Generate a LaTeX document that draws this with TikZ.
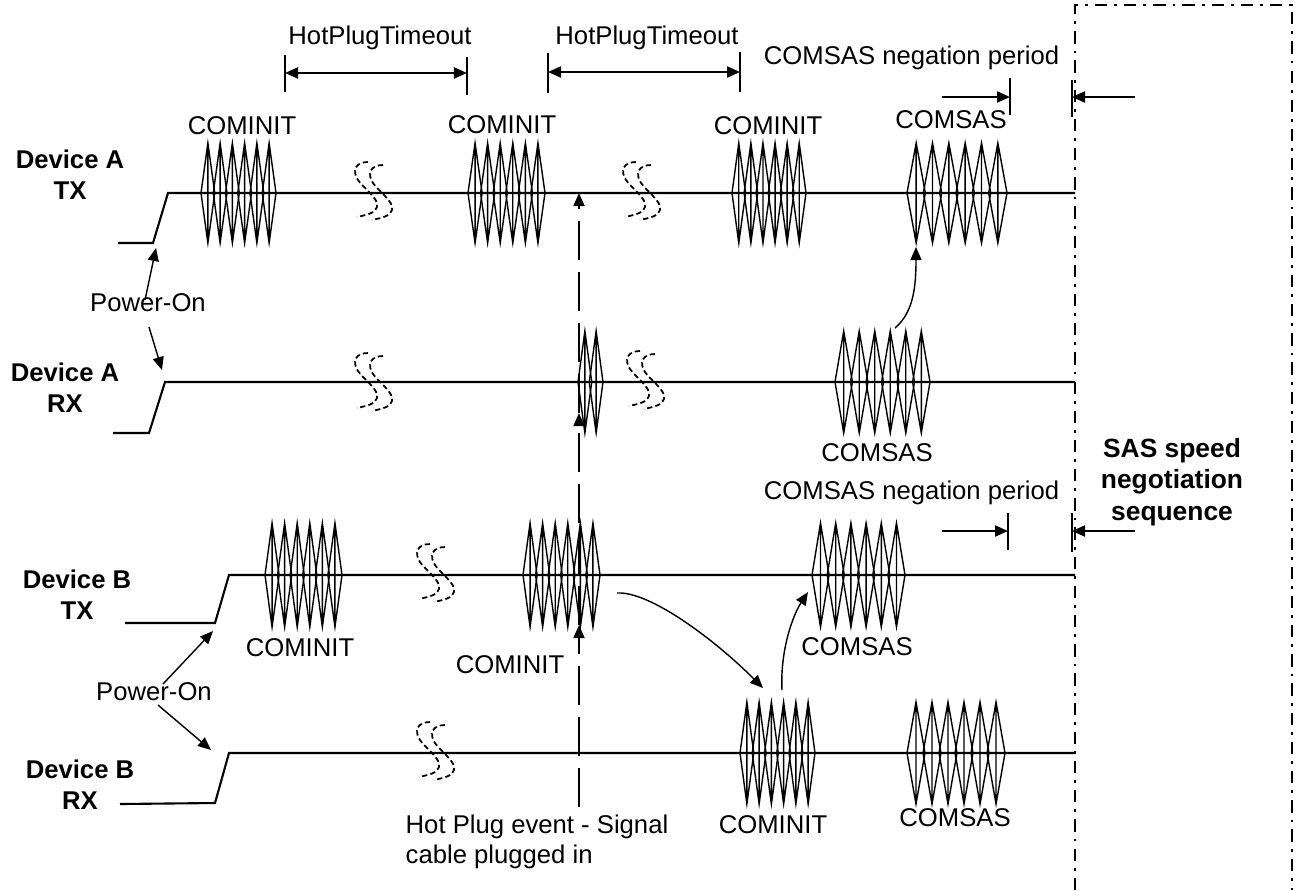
\documentclass[tikz,border=0pt]{standalone}
\usepackage{fontspec}
\setmainfont{Liberation Sans}
\usetikzlibrary{arrows.meta}

% one burst of oscillation: left x, right x, line y, half height, columns
\newcommand{\sigburst}[5]{%
  \pgfmathsetmacro{\hw}{0.55*(#2-#1)/#5}%
  \foreach \k in {1,...,#5}{%
    \pgfmathsetmacro{\cx}{#1+\hw+(\k-1)*(#2-#1-2*\hw)/(#5-1)}%
    \draw[burst] (\cx,#3-#4) -- (\cx+\hw,#3) -- (\cx,#3+#4) -- (\cx-\hw,#3) -- cycle
      (\cx,#3-#4) -- (\cx,#3+#4);
  }}
% time break mark: left x, line y
\newcommand{\sigbreak}[2]{%
  \foreach \dx/\dy in {0/0,15/3}{%
    \draw[brk,shift={(#1+\dx,#2+\dy)}] (13,-31) .. controls (0,-31) and (-3,-22) .. (3,-13)
      .. controls (9,-4) and (24,5) .. (22,14) .. controls (21,20) and (11,22) .. (2,24);
  }}

\tikzset{
  lbl/.style={font=\fontsize{7.3}{8.5}\selectfont, inner sep=0pt},
  dev/.style={font=\fontsize{7.3}{8.8}\selectfont\bfseries, align=center, inner sep=0pt},
  sig/.style={line width=0.6pt},
  burst/.style={line width=0.4pt},
  brk/.style={line width=0.5pt, dash pattern=on 1.5pt off 0.9pt},
  plug/.style={line width=0.5pt, dash pattern=on 11pt off 3.5pt},
  seqbox/.style={line width=0.6pt, dash pattern=on 3.5pt off 2pt on 0.8pt off 2pt},
  tick/.style={line width=0.6pt}
}

\begin{document}
\begin{tikzpicture}[x=0.01cm, y=-0.01cm, >={Triangle[length=1.3mm,width=1.1mm]}]
\useasboundingbox (0,0) rectangle (1297,890);

% HotPlugTimeout spans:
\node[lbl] (hptA) at (380,38) {HotPlugTimeout};
\node[lbl] (hptB) at (647,38) {HotPlugTimeout};
\draw[tick] (285,55) -- (285,92) (467,57) -- (467,95) (548,53) -- (548,93) (740,52) -- (740,92);
\coordinate (hptA1) at (285,73); \coordinate (hptA2) at (467,73);
\coordinate (hptB1) at (548,72); \coordinate (hptB2) at (740,72);
\draw[<->, line width=0.6pt] (hptA1) -- (hptA2);
\draw[<->, line width=0.6pt] (hptB1) -- (hptB2);

% COMSAS negation periods:
\node[lbl, anchor=east] (negA) at (1060,58) {COMSAS negation period};
\node[lbl, anchor=east] (negB) at (1060,493) {COMSAS negation period};
\draw[tick] (1010,78) -- (1010,115) (1072,80) -- (1072,117) (1008,513) -- (1008,550) (1072,513) -- (1072,552);
\coordinate (negA1) at (942,97); \coordinate (negA2) at (1010,97);
\coordinate (negA3) at (1135,97); \coordinate (negA4) at (1072,97);
\coordinate (negB1) at (942,531); \coordinate (negB2) at (1008,531);
\coordinate (negB3) at (1135,531); \coordinate (negB4) at (1072,531);
\draw[->, line width=0.6pt] (negA1) -- (negA2);
\draw[->, line width=0.6pt] (negA3) -- (negA4);
\draw[->, line width=0.6pt] (negB1) -- (negB2);
\draw[->, line width=0.6pt] (negB3) -- (negB4);

% Device A TX:
\node[dev] (devAtx) at (70,175) {Device A\\TX};
\draw[sig] (118,243) -- (153,243) -- (168,193) -- (1075,193);
\sigburst{201}{276}{193}{50}{6}
\sigburst{468}{545}{193}{50}{6}
\sigburst{732}{806}{193}{50}{6}
\sigburst{907}{1007}{193}{50}{6}
\sigbreak{355}{193} \sigbreak{623}{193}
\node[lbl] (ciAtx1) at (242,126) {COMINIT};
\node[lbl] (ciAtx2) at (502,125) {COMINIT};
\node[lbl] (ciAtx3) at (768,126) {COMINIT};
\node[lbl] (csAtx) at (951,120) {COMSAS};

% Device A RX:
\node[dev] (devArx) at (65,388) {Device A\\RX};
\draw[sig] (113,433) -- (149,433) -- (165,382) -- (1075,382);
\sigburst{578}{603}{382}{51}{2}
\sigburst{835}{930}{382}{51}{6}
\sigbreak{355}{384} \sigbreak{627}{382}
\node[lbl] (csArx) at (877,453) {COMSAS};

% Device B TX:
\node[dev] (devBtx) at (77,595) {Device B\\TX};
\draw[sig] (125,623) -- (215,623) -- (229,575) -- (1075,575);
\sigburst{265}{342}{575}{52}{6}
\sigburst{523}{600}{575}{52}{6}
\sigburst{812}{905}{575}{52}{6}
\sigbreak{417}{575}
\node[lbl] (ciBtx1) at (300,648) {COMINIT};
\node[lbl] (ciBtx2) at (510,665) {COMINIT};
\node[lbl] (csBtx) at (857,647) {COMSAS};

% Device B RX:
\node[dev] (devBrx) at (80,785) {Device B\\RX};
\draw[sig] (120,804) -- (215,803) -- (229,753) -- (1075,753);
\sigburst{740}{815}{753}{51}{6}
\sigburst{907}{1005}{753}{51}{6}
\sigbreak{417}{753}
\node[lbl] (ciBrx) at (773,825) {COMINIT};
\node[lbl] (csBrx) at (955,818) {COMSAS};

% Power-On:
\node[lbl] (pwrA) at (148,303) {Power-On};
\node[lbl] (pwrB) at (154,692) {Power-On};
\coordinate (pwrA1) at (145,300); \coordinate (pwrA2) at (156,248);
\coordinate (pwrA3) at (149,327); \coordinate (pwrA4) at (162,370);
\coordinate (pwrB1) at (163,684); \coordinate (pwrB2) at (213,631);
\coordinate (pwrB3) at (158,705); \coordinate (pwrB4) at (211,750);
\draw[->, line width=0.4pt] (pwrA1) -- (pwrA2);
\draw[->, line width=0.4pt] (pwrA3) -- (pwrA4);
\draw[->, line width=0.4pt] (pwrB1) -- (pwrB2);
\draw[->, line width=0.4pt] (pwrB3) -- (pwrB4);

% hot plug event:
\coordinate (plug0) at (579,807); \coordinate (plug1) at (579,625);
\coordinate (plug2) at (579,413); \coordinate (plug3) at (579,193);
\draw[plug,->] (plug0) -- (plug1);
\draw[plug,->] (plug1) -- (plug2);
\draw[plug,->] (plug2) -- (plug3);
\node[lbl, anchor=west, align=left] (plugtxt) at (405,842) {Hot Plug event - Signal\\cable plugged in};

% handshakes:
\draw[->, line width=0.4pt] (895,328) .. controls (914,312) and (916,285) .. (916,247);
\draw[->, line width=0.4pt] (617,593) .. controls (650,591) and (715,640) .. (763,688);
\draw[->, line width=0.4pt] (782,690) .. controls (780,650) and (793,615) .. (808,592);

% SAS speed negotiation:
\draw[seqbox] (1075,890) -- (1075,5) -- (1292,5) -- (1292,890);
\node[dev, font=\fontsize{7.5}{9}\selectfont\bfseries] (sasseq) at (1172,482) {SAS speed\\negotiation\\sequence};
\end{tikzpicture}
\end{document}
